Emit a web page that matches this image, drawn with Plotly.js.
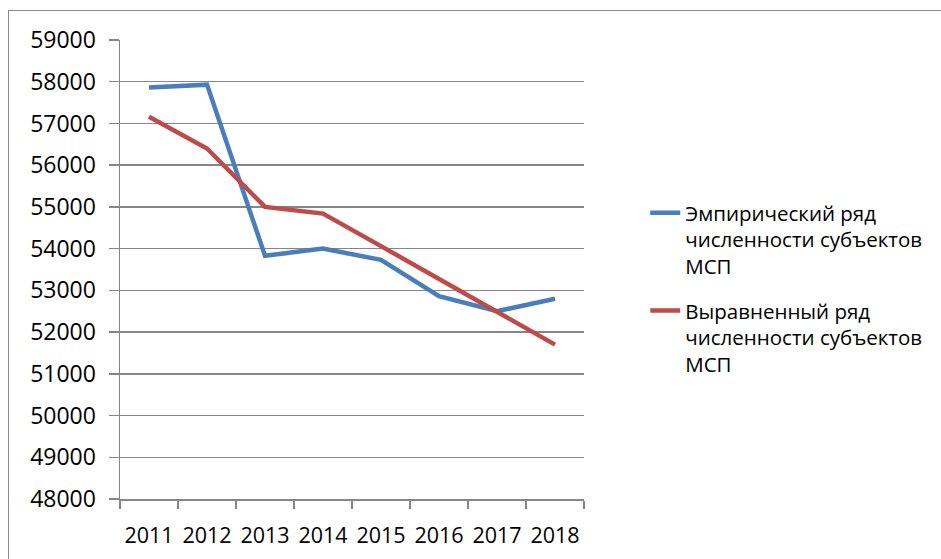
<!DOCTYPE html>
<html>
<head>
<meta charset="utf-8">
<script src="https://cdn.plot.ly/plotly-3.0.1.min.js"></script>
<style>
html,body{margin:0;padding:0;background:#fff;overflow:hidden;}
#frame{position:absolute;left:8px;top:10px;width:1000px;height:700px;border:1.5px solid #8a8a8a;box-sizing:border-box;}
#chart{position:absolute;left:0;top:0;width:941px;height:559px;}
</style>
</head>
<body>
<div id="frame"></div>
<div id="chart"></div>
<script>
const years = ['2011','2012','2013','2014','2015','2016','2017','2018'];
const empirical = [57860, 57930, 53830, 54000, 53730, 52860, 52500, 52800];
const smoothed = [57160, 56400, 55000, 54840, 54060, 53280, 52490, 51700];
const seriesNames = [
  'Эмпирический ряд<br>численности субъектов<br>МСП',
  'Выравненный ряд<br>численности субъектов<br>МСП'
];
const yTicks = [48000,49000,50000,51000,52000,53000,54000,55000,56000,57000,58000,59000];

const font = "'Open Sans', 'DejaVu Sans', sans-serif";
const traces = [
  {x: years, y: empirical, name: seriesNames[0], type: 'scatter', mode: 'lines',
   line: {color: '#4A7EBB', width: 4.5}, legendgroup: 'a'},
  {x: years, y: smoothed, name: seriesNames[1], type: 'scatter', mode: 'lines',
   line: {color: '#BE4B48', width: 4.5}, legendgroup: 'b'}
];
const layout = {
  width: 941, height: 559,
  margin: {l: 120, r: 357, t: 40, b: 60},
  paper_bgcolor: 'rgba(0,0,0,0)', plot_bgcolor: 'rgba(0,0,0,0)',
  font: {family: font, size: 22, color: '#000'},
  showlegend: true,
  legend: {x: 1.132, xanchor: 'left', y: 0.667, yanchor: 'top', valign: 'top',
           font: {family: font, size: 20.5, color: '#000'}, tracegroupgap: 15,
           bgcolor: 'rgba(0,0,0,0)'},
  xaxis: {type: 'category', range: [-0.5, 7.5], tickson: 'boundaries',
          ticks: 'outside', ticklen: 8, tickcolor: '#868686', tickwidth: 1.5,
          showline: true, linecolor: '#868686', linewidth: 1.5, tickangle: 0,
          showgrid: false, tickfont: {family: font, size: 21.5, color: '#000'},
          ticklabelstandoff: 17, fixedrange: true},
  yaxis: {range: [48000, 59000], tickvals: yTicks, ticktext: yTicks.map(String),
          ticks: 'outside', ticklen: 10, tickcolor: '#868686', tickwidth: 1.5,
          showline: true, linecolor: '#868686', linewidth: 1.5,
          showgrid: true, gridcolor: '#868686', gridwidth: 1.5, zeroline: false,
          tickfont: {family: font, size: 23, color: '#000'}, ticklabelstandoff: 8,
          fixedrange: true}
};
Plotly.newPlot('chart', traces, layout, {displayModeBar: false, staticPlot: true});
</script>
</body>
</html>
